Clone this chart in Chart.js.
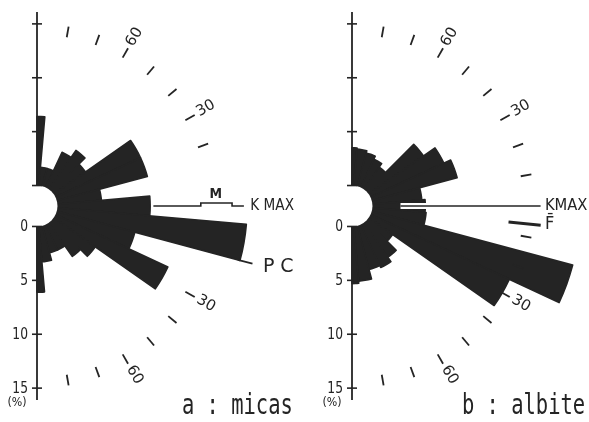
<!DOCTYPE html>
<html>
<head>
<meta charset="utf-8">
<script src="https://cdn.jsdelivr.net/npm/chart.js@4.4.1/dist/chart.umd.min.js"></script>
<style>
html, body { margin: 0; padding: 0; background: #fff; }
body { width: 589px; height: 422px; overflow: hidden; position: relative; }
canvas { position: absolute; top: -30px; }
#roseA { left: -273px; }
#roseB { left: 42px; }
</style>
</head>
<body>
<canvas id="roseA" width="620" height="472"></canvas>
<canvas id="roseB" width="620" height="472"></canvas>
<script>
// bin centres in degrees (90 and -90 are the two halves of the same bin)
const binAngles = [90, 80, 70, 60, 50, 40, 30, 20, 10, 0, -10, -20, -30, -40, -50, -60, -70, -80, -90];
// frequency of each bin, in %
const micas  = [6.4, 1.7, 1.7, 3.6, 4.4, 3.6, 8.7, 8.7, 4.1, 8.6, 17.6, 7.5, 11.5, 4.7, 3.8, 2.6, 2.6, 3.3, 6.1];
const albite = [3.5, 3.4, 3.2, 2.9, 2.5, 6.2, 7.5, 8.2, 4.6, 4.9, 5.0, 19.3, 14.2, 2.7, 3.9, 4.4, 4.2, 5.1, 5.3];
const radialTicks = ['0', '5', '10', '15'];
const angleLabels = ['30', '60'];
const marksA = [80, 70, 60, 50, 40, 30, 20, -30, -40, -50, -60, -70, -80];
const marksB = [80, 70, 60, 50, 40, 30, 20, 10, -10, -20, -30, -40, -50, -60, -70, -80];

const INK = '#242424';
const binWidths = binAngles.map(a => Math.abs(a) === 90 ? 5 : 10).concat([180]);

function label(c, text, x, y, font, sx, align, base, rot) {
    c.save();
    c.translate(x, y);
    if (rot) c.rotate(rot);
    c.scale(sx, 1);
    c.font = font;
    c.fillStyle = INK;
    c.textAlign = align;
    c.textBaseline = base;
    c.fillText(text, 0, 0);
    c.restore();
}

function rosePlugin(cfg) {
    return {
        id: 'roseDecor',
        afterDatasetsDraw(chart) {
            const s = chart.scales.r;
            const c = chart.ctx;
            const xc = s.xCenter, yc = s.yCenter;
            const rad = v => s.getDistanceFromCenterForValue(v);
            // point at angle deg (counter-clockwise from east), value v, offset px to the left of the ray
            const pt = (deg, v, off = 0) => {
                const a = deg * Math.PI / 180, r = rad(v);
                return [xc + r * Math.cos(a) - off * Math.sin(a), yc - r * Math.sin(a) - off * Math.cos(a)];
            };
            const line = (pts, w, color) => {
                c.save();
                c.strokeStyle = color || INK;
                c.lineWidth = w;
                c.beginPath();
                pts.forEach((p, i) => i ? c.lineTo(p[0], p[1]) : c.moveTo(p[0], p[1]));
                c.stroke();
                c.restore();
            };

            // central hole
            c.save();
            c.fillStyle = '#fff';
            c.beginPath();
            c.arc(xc, yc, rad(0), 0, Math.PI * 2);
            c.fill();
            c.restore();

            // vertical % axis, above and below the hole
            line([[xc, yc - rad(16.1)], [xc, yc - rad(0)]], 1.8);
            line([[xc, yc + rad(0)], [xc, yc + rad(16.1)]], 1.8);
            radialTicks.forEach(t => {
                const v = +t;
                line([[xc - 5, yc - rad(v)], [xc + 5, yc - rad(v)]], 1.6);
                line([[xc - 5, yc + rad(v)], [xc + 5, yc + rad(v)]], 1.6);
                label(c, t, xc - 9, yc + rad(v) + 1, '15px "DejaVu Sans"', 0.82, 'right', 'middle');
            });
            label(c, '(%)', xc - 20, yc + 197, '13px "DejaVu Sans"', 0.85, 'center', 'middle');

            // angle dashes and their labels
            cfg.marks.forEach(m => line([pt(m, 14.0), pt(m, 15.0)], 1.8));
            angleLabels.forEach(t => {
                [+t, -t].forEach(a => {
                    const p = pt(a, 16.2);
                    label(c, t, p[0], p[1], '15px "DejaVu Sans"', 1, 'center', 'middle', -a * Math.PI / 180);
                });
            });

            cfg.extra(c, pt, line);

            label(c, cfg.title, xc + cfg.titleX, yc + 208, '28px "DejaVu Sans Mono"', 0.73, 'left', 'alphabetic');
        }
    };
}

function makeRose(id, values, cfg) {
    return new Chart(document.getElementById(id), {
        type: 'polarArea',
        data: {
            labels: binAngles.map(String).concat(['']),
            datasets: [{
                data: values.concat([0]),
                angle: ctx => binWidths[ctx.dataIndex],
                backgroundColor: ctx => ctx.dataIndex < values.length ? INK : 'rgba(0,0,0,0)',
                borderColor: ctx => ctx.dataIndex < values.length ? INK : 'rgba(0,0,0,0)',
                borderWidth: 1.6,
                borderJoinStyle: 'round'
            }]
        },
        options: {
            responsive: false,
            animation: false,
            layout: { padding: 0 },
            plugins: {
                legend: { display: false },
                tooltip: { enabled: false }
            },
            scales: {
                r: {
                    min: -1.9,
                    max: 20,
                    startAngle: 0,
                    ticks: { display: false },
                    grid: { display: false },
                    angleLines: { display: false },
                    pointLabels: { display: false }
                }
            }
        },
        plugins: [rosePlugin(cfg)]
    });
}

makeRose('roseA', micas, {
    marks: marksA,
    title: 'a : micas',
    titleX: 145,
    extra(c, pt, line) {
        // K MAX direction with the micas mean (M)
        line([pt(0, 8.9), pt(0, 13.3), pt(0, 13.3, 3), pt(0, 16.2, 3), pt(0, 16.2), pt(0, 17.3)], 1.6);
        const m = pt(0, 14.7, 12);
        label(c, 'M', m[0], m[1], 'bold 14px "DejaVu Sans"', 0.9, 'center', 'middle');
        const k = pt(0, 17.9);
        label(c, 'K MAX', k[0], k[1], '16px "DejaVu Sans"', 0.85, 'left', 'middle');
        // PC
        line([pt(-15, 17.4), pt(-15, 18.8)], 1.8);
        const p = pt(-15, 19.8);
        label(c, 'P C', p[0], p[1], '20px "DejaVu Sans"', 0.95, 'left', 'middle');
    }
});

makeRose('roseB', albite, {
    marks: marksB,
    title: 'b : albite',
    titleX: 110,
    extra(c, pt, line) {
        // K MAX direction, cut through the bars
        line([pt(0, 2.6), pt(0, 15.6)], 6, '#fff');
        line([pt(0, 2.6), pt(0, 15.6)], 1.6);
        const k = pt(0, 16.0);
        label(c, 'KMAX', k[0], k[1], '16px "DejaVu Sans"', 0.92, 'left', 'middle');
        // foliation
        line([pt(-5.8, 12.7), pt(-5.8, 15.7)], 3);
        const f = pt(-5.6, 16.1);
        label(c, 'F\u0304', f[0], f[1], '17px "DejaVu Sans"', 0.95, 'left', 'middle');
    }
});
</script>
</body>
</html>
